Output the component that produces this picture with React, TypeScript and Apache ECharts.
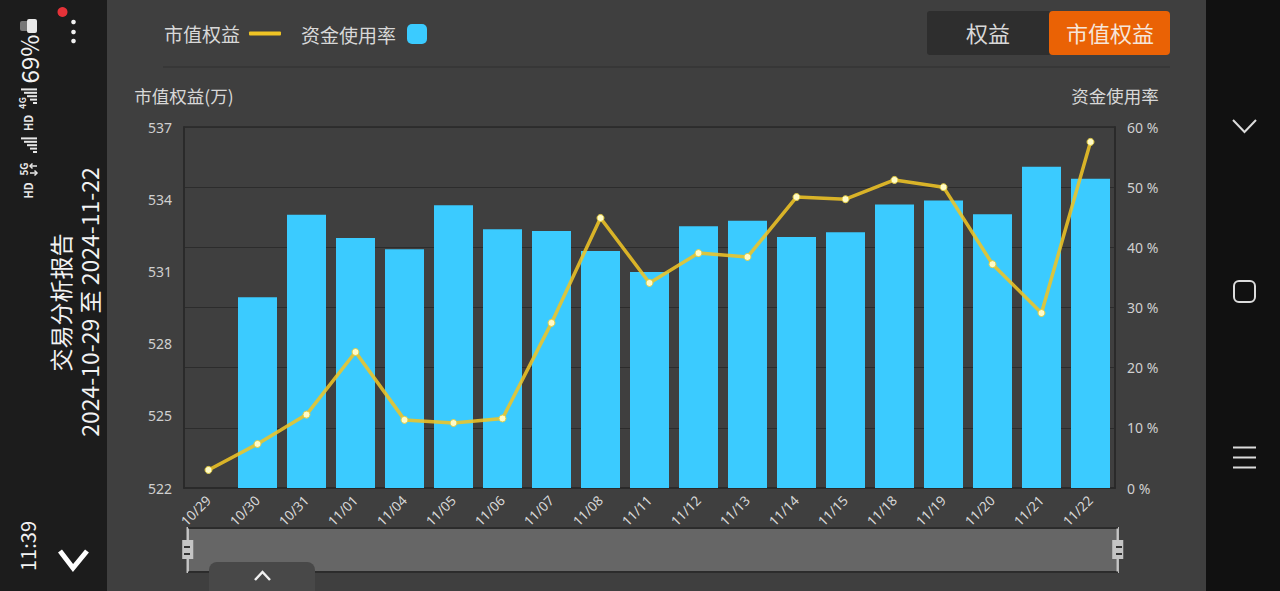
import React, { useEffect, useRef } from "react";
import * as echarts from "echarts";

const categories = ["10/29","10/30","10/31","11/01","11/04","11/05","11/06","11/07","11/08","11/11","11/12","11/13","11/14","11/15","11/18","11/19","11/20","11/21","11/22"];
const usageRate = [null,31.7,45.4,41.55,39.7,47.0,43.0,42.7,39.4,35.9,43.5,44.4,41.7,42.5,47.1,47.8,45.5,53.4,51.4];
const marketEquity = [522.75,523.83,525.05,527.65,524.83,524.7,524.89,528.86,533.22,530.52,531.76,531.6,534.09,534.0,534.8,534.5,531.3,529.27,536.38];

const CJK = '"Noto Sans CJK SC", "Noto Sans", sans-serif';
const LATIN = '"Noto Sans", "Noto Sans CJK SC", sans-serif';
const HANDLE = "path://M-1.2 0H1.2V14H5.5V33H1.2V46H-1.2V33H-5.5V14H-1.2Z";

const rotText = (text: string, x: number, y: number, size: number, fill = "#f2f2f2", weight = 400) => ({
  type: "text", x, y, rotation: Math.PI / 2, z: 20,
  style: { text, fill, fontSize: size, fontFamily: CJK, fontWeight: weight, align: "center", verticalAlign: "middle" },
});
const box = (x: number, y: number, width: number, height: number, fill: string, r = 0, z = 1) => ({
  type: "rect", z, shape: { x, y, width, height, r }, style: { fill },
});
const stroke = (points: number[][], color: string, lineWidth: number, z = 20) => ({
  type: "polyline", z, shape: { points }, style: { stroke: color, lineWidth, fill: "none" },
});
const signal = (x: number, yBottom: number) =>
  [3, 6, 9, 12, 15].map((w, i) => box(x + 16 - (w + 1), yBottom - i * 3.4, w + 1, 2, "#e8e8e8", 0, 20));

const chrome = [
  box(0, 0, 107, 591, "#1c1c1c"),
  box(1206, 0, 74, 591, "#111111"),
  box(163, 66.5, 1007, 1, "#303030"),
  box(927, 11, 124, 44, "#2e2e2e", 3),
  box(1049, 11, 121, 44, "#ea6205", 4, 2),
  { type: "text", z: 3, x: 988, y: 32, style: { text: "权益", fill: "#d8d8d8", fontSize: 22, fontFamily: CJK, align: "center", verticalAlign: "middle" } },
  { type: "text", z: 3, x: 1110, y: 32, style: { text: "市值权益", fill: "#f6e6da", fontSize: 22, fontFamily: CJK, align: "center", verticalAlign: "middle" } },
  rotText("交易分析报告", 60, 302.5, 23),
  rotText("2024-10-29 至 2024-11-22", 89, 302, 23),
  rotText("11:39", 27, 546, 20),
  rotText("69%", 28, 59, 24),
  rotText("4G", 22.5, 103, 9, "#e8e8e8", 700),
  rotText("HD", 28, 123, 11, "#e8e8e8", 700),
  rotText("5G", 23, 169, 10, "#e8e8e8", 700),
  rotText("HD", 28, 190.5, 11, "#e8e8e8", 700),
  ...signal(21, 102),
  ...signal(21, 151),
  stroke([[37, 166], [30, 166]], "#e8e8e8", 1.5),
  stroke([[32.5, 163.5], [30, 166], [32.5, 168.5]], "#e8e8e8", 1.5),
  stroke([[30, 173], [37, 173]], "#e8e8e8", 1.5),
  stroke([[34.5, 170.5], [37, 173], [34.5, 175.5]], "#e8e8e8", 1.5),
  box(20, 21, 10, 10, "#777777", 2, 20),
  box(27, 19, 10, 14, "#e8e8e8", 2, 20),
  { type: "circle", z: 20, shape: { cx: 62.5, cy: 12, r: 5 }, style: { fill: "#e53238" } },
  { type: "circle", z: 20, shape: { cx: 73.5, cy: 22, r: 2.3 }, style: { fill: "#f0f0f0" } },
  { type: "circle", z: 20, shape: { cx: 73.5, cy: 32, r: 2.3 }, style: { fill: "#f0f0f0" } },
  { type: "circle", z: 20, shape: { cx: 73.5, cy: 41, r: 2.3 }, style: { fill: "#f0f0f0" } },
  stroke([[60, 551], [73, 568], [87, 551]], "#ffffff", 5),
  stroke([[1233, 120], [1244.5, 132], [1256, 120]], "#dcdcdc", 2),
  { type: "rect", z: 20, shape: { x: 1234, y: 281, width: 21, height: 21, r: 5 }, style: { fill: "none", stroke: "#dcdcdc", lineWidth: 2 } },
  stroke([[1233, 447.5], [1256, 447.5]], "#dcdcdc", 2),
  stroke([[1233, 457.5], [1256, 457.5]], "#dcdcdc", 2),
  stroke([[1233, 467.5], [1256, 467.5]], "#dcdcdc", 2),
  box(188, 527, 930, 1.5, "#2c2c2c", 0, 25),
  box(188, 571.5, 930, 1.5, "#2c2c2c", 0, 25),
  box(184, 546, 6, 2, "#333333", 0, 26),
  box(184, 553, 6, 2, "#333333", 0, 26),
  box(1116, 546, 6, 2, "#333333", 0, 26),
  box(1116, 553, 6, 2, "#333333", 0, 26),
  { type: "rect", z: 30, shape: { x: 209, y: 562, width: 106, height: 40, r: 8 }, style: { fill: "#484848" } },
  stroke([[255, 580], [262.5, 572], [270, 580]], "#f0f0f0", 2.5, 31),
];

export default function App() {
  const ref = useRef<HTMLDivElement>(null);
  useEffect(() => {
    document.body.style.margin = "0";
    const chart = echarts.init(ref.current!, null, { renderer: "svg" });
    chart.setOption({
      animation: false,
      backgroundColor: "#3f3f3f",
      graphic: { elements: chrome },
      legend: [
        { data: ["市值权益"], left: 159, top: 19, icon: "roundRect", align: "right", itemWidth: 32, itemHeight: 4, selectedMode: false,
          itemStyle: { color: "#efc425", borderWidth: 0 }, lineStyle: { width: 0 },
          textStyle: { color: "#d8d8d8", fontSize: 19, fontFamily: CJK, padding: [0, 4, 0, 0] } },
        { data: ["资金使用率"], left: 296, top: 19, icon: "roundRect", align: "right", itemWidth: 20, itemHeight: 20, selectedMode: false,
          textStyle: { color: "#d8d8d8", fontSize: 19, fontFamily: CJK, padding: [0, 6, 0, 0] } },
      ],
      grid: { left: 184, right: 165, top: 127, bottom: 103, show: true, borderColor: "#2a2a2a", borderWidth: 1.5, backgroundColor: "transparent" },
      xAxis: {
        type: "category", data: categories, boundaryGap: true,
        axisLine: { lineStyle: { color: "#2a2a2a", width: 1.5 } },
        axisTick: { alignWithLabel: true, length: 5, lineStyle: { color: "#2a2a2a" } },
        axisLabel: { rotate: 45, color: "#d8d8d8", fontSize: 13.5, fontFamily: LATIN, margin: 10, interval: 0 },
        splitLine: { show: false },
      },
      yAxis: [
        {
          type: "value", min: 522, max: 537, interval: 3, position: "left",
          name: "市值权益(万)", nameLocation: "end", nameGap: 23,
          nameTextStyle: { color: "#d8d8d8", fontSize: 17.5, fontFamily: CJK },
          axisLine: { show: true, lineStyle: { color: "#2a2a2a", width: 1.5 } },
          axisTick: { show: false },
          axisLabel: { color: "#d0d0d0", fontSize: 14, fontFamily: LATIN, margin: 12, padding: [5, 0, 0, 0] },
          splitLine: { show: false },
        },
        {
          type: "value", min: 0, max: 60, interval: 10, position: "right",
          name: "资金使用率", nameLocation: "end", nameGap: 23,
          nameTextStyle: { color: "#d8d8d8", fontSize: 17.5, fontFamily: CJK },
          axisLine: { show: true, lineStyle: { color: "#2a2a2a", width: 1.5 } },
          axisTick: { show: false },
          axisLabel: { color: "#d0d0d0", fontSize: 14, fontFamily: LATIN, margin: 12, padding: [3, 0, 0, 0], formatter: "{value} %" },
          splitLine: { show: true, lineStyle: { color: "#2c2c2c", width: 1.2 } },
        },
      ],
      dataZoom: [{
        type: "slider", xAxisIndex: 0, start: 0, end: 100, left: 186.5, right: 161.5, top: 528, height: 44,
        showDetail: false, showDataShadow: false, brushSelect: false,
        backgroundColor: "#666666", fillerColor: "#666666", borderColor: "#2a2a2a",
        handleIcon: HANDLE, handleSize: "105%", moveHandleSize: 0,
        handleStyle: { color: "#c4c4c4", borderWidth: 0 },
      }],
      series: [
        { name: "资金使用率", type: "bar", yAxisIndex: 1, data: usageRate, barWidth: 39, itemStyle: { color: "#3bcbff" }, z: 2 },
        {
          name: "市值权益", type: "line", yAxisIndex: 0, data: marketEquity, z: 3,
          showSymbol: true, symbol: "circle", symbolSize: 7,
          lineStyle: { color: "#efc425", width: 3.5, opacity: 0.88 },
          itemStyle: { color: "#fffbc8", borderColor: "#e3cc40", borderWidth: 1 },
        },
      ],
    });
    return () => chart.dispose();
  }, []);
  return <div ref={ref} style={{ width: 1280, height: 591 }} />;
}
